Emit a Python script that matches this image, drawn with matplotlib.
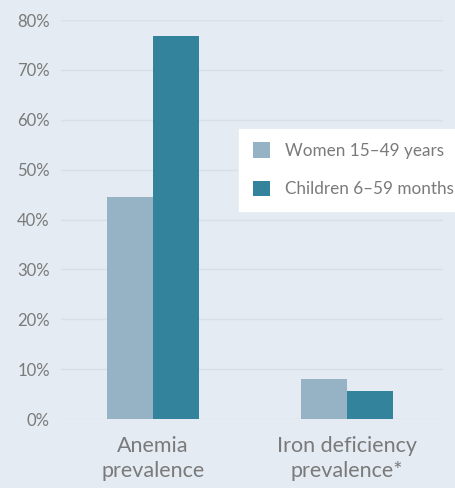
import matplotlib.pyplot as plt
import numpy as np

# Data
categories = ['Anemia\nprevalence', 'Iron deficiency\nprevalence*']
women = [44.5, 8.0]
children = [76.8, 5.6]
series_names = ['Women 15\u201349 years', 'Children 6\u201359 months']
yticks = [0, 10, 20, 30, 40, 50, 60, 70, 80]

bg = '#e4ebf2'
c_women = '#95b3c5'
c_child = '#33839d'
txt = '#7a7a7a'

plt.rcParams['font.family'] = ['Lato', 'DejaVu Sans']

fig = plt.figure(figsize=(4.55, 4.88), dpi=100, facecolor=bg)
ax = fig.add_axes([0.134, 0.141, 0.840, 0.818], facecolor=bg)

x = np.arange(len(categories))
w = 0.237
ax.bar(x - w / 2, women, w, color=c_women, label=series_names[0], zorder=3)
ax.bar(x + w / 2, children, w, color=c_child, label=series_names[1], zorder=3)

ax.set_xlim(-0.474, 1.495)
ax.set_ylim(0, 80)
ax.set_yticks(yticks)
ax.set_yticklabels([f'{v}%' for v in yticks], fontsize=12, color=txt)
ax.set_xticks(x)
ax.set_xticklabels(categories, fontsize=15.5, color=txt, linespacing=1.3)
ax.tick_params(axis='both', length=0)
ax.tick_params(axis='y', pad=8)
ax.tick_params(axis='x', pad=12)
ax.grid(axis='y', color='#d8dfe6', linewidth=1, zorder=0)
for s in ax.spines.values():
    s.set_visible(False)

leg = fig.legend(loc='upper left', bbox_to_anchor=(0.525, 0.736), frameon=True,
                 fancybox=False, facecolor='white', edgecolor='white', framealpha=1,
                 fontsize=12.3, labelcolor=txt, handlelength=1.05, handleheight=1.05,
                 handletextpad=0.85, borderpad=0.8, labelspacing=1.25, borderaxespad=0)

fig.savefig('out.png', dpi=100, facecolor=bg)
